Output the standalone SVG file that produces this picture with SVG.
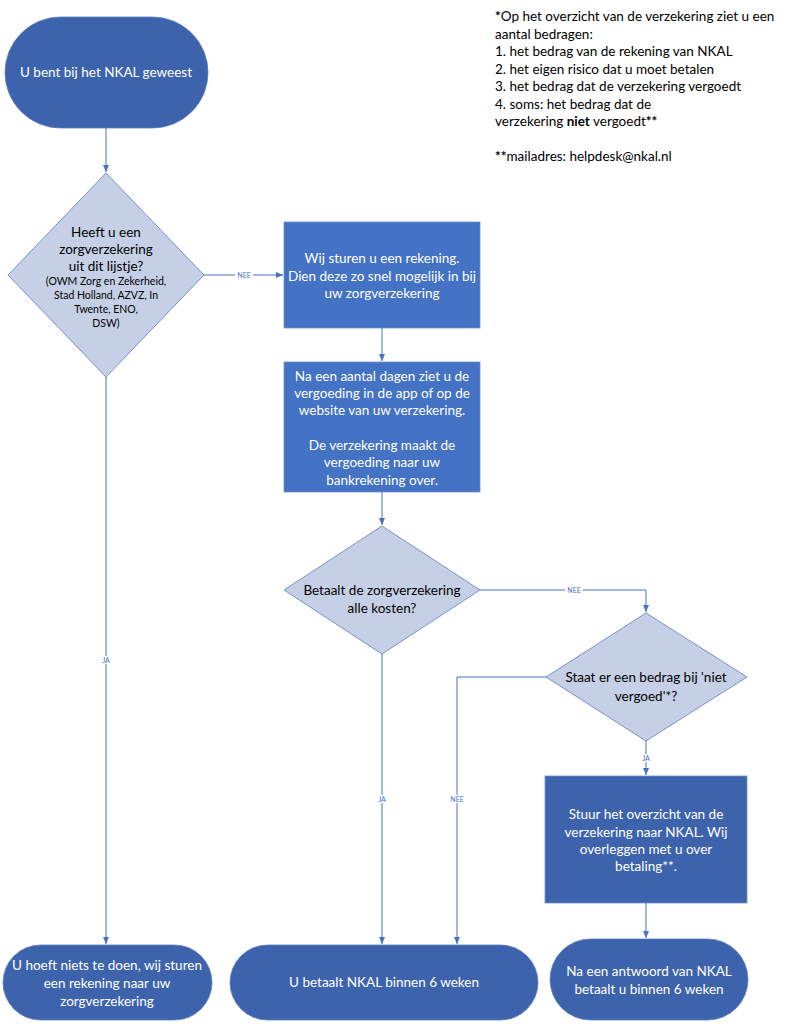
<svg xmlns="http://www.w3.org/2000/svg" width="790" height="1024" viewBox="0 0 790 1024">
<style>
text{font-family:Lato,"Open Sans","Liberation Sans",sans-serif;font-size:13.5px}
.term{fill:#3e63ad;stroke:#5a7dc0;stroke-width:0.8}
.proc{fill:#4472c4;stroke:#6f8fcf;stroke-width:0.8}
.proc2{fill:#3e63ad;stroke:#6f8fcf;stroke-width:0.8}
.dec{fill:#c5d0e6;stroke:#7b92c6;stroke-width:1}
.wt{fill:#ffffff;text-anchor:middle}
.bt{fill:#000000;text-anchor:middle}
.sm{font-size:10.5px}
.note{fill:#000000}
.edge{fill:none;stroke:#4472c4;stroke-width:1}
.lbl{font-size:7px;fill:#4472c4;text-anchor:middle}
.lblbg{fill:#ffffff}
</style>
<defs>
<marker id="arr" markerWidth="8" markerHeight="8" refX="7" refY="4" orient="auto" markerUnits="userSpaceOnUse">
<path d="M0,1 L7,4 L0,7 Z" fill="#4472c4"/>
</marker>
</defs>
<rect width="790" height="1024" fill="#ffffff"/>

<g id="connectors">
<path class="edge" d="M106,128 L106,172" marker-end="url(#arr)"/>
<path class="edge" d="M204,275 L283,275" marker-end="url(#arr)"/>
<path class="edge" d="M382,328 L382,361" marker-end="url(#arr)"/>
<path class="edge" d="M382,492 L382,525" marker-end="url(#arr)"/>
<path class="edge" d="M480,590 L646,590 L646,612" marker-end="url(#arr)"/>
<path class="edge" d="M646,740 L646,775" marker-end="url(#arr)"/>
<path class="edge" d="M646,903 L646,938" marker-end="url(#arr)"/>
<path class="edge" d="M546,677 L457,677 L457,944" marker-end="url(#arr)"/>
<path class="edge" d="M382,653 L382,944" marker-end="url(#arr)"/>
<path class="edge" d="M106,376 L106,944" marker-end="url(#arr)"/>
<rect class="lblbg" x="235" y="271" width="18" height="8"/>
<text class="lbl" x="244" y="277.5">NEE</text>
<rect class="lblbg" x="565" y="586" width="18" height="8"/>
<text class="lbl" x="574" y="592.5">NEE</text>
<rect class="lblbg" x="640" y="754" width="12" height="8"/>
<text class="lbl" x="646" y="760.5">JA</text>
<rect class="lblbg" x="448" y="795" width="18" height="8"/>
<text class="lbl" x="457" y="801.5">NEE</text>
<rect class="lblbg" x="376" y="795" width="12" height="8"/>
<text class="lbl" x="382" y="801.5">JA</text>
<rect class="lblbg" x="100" y="656" width="12" height="8"/>
<text class="lbl" x="106" y="662.5">JA</text>
</g>

<g id="start">
<rect class="term" x="5" y="17" width="203" height="111" rx="55.5" ry="55.5"/>
<text class="wt" x="106" y="77">U bent bij het NKAL geweest</text>
</g>

<g id="decision1">
<polygon class="dec" points="106,173 204,275 106,377 8,275"/>
<text class="bt" x="106" y="237">Heeft u een</text>
<text class="bt" x="106" y="254">zorgverzekering</text>
<text class="bt" x="106" y="271">uit dit lijstje?</text>
<text class="bt sm" x="106" y="285">(OWM Zorg en Zekerheid,</text>
<text class="bt sm" x="106" y="299">Stad Holland, AZVZ, In</text>
<text class="bt sm" x="106" y="313">Twente, ENO,</text>
<text class="bt sm" x="106" y="327">DSW)</text>
</g>

<g id="send-bill">
<rect class="proc" x="284" y="222" width="196" height="106"/>
<text class="wt" x="382" y="263">Wij sturen u een rekening.</text>
<text class="wt" x="382" y="281">Dien deze zo snel mogelijk in bij</text>
<text class="wt" x="382" y="298">uw zorgverzekering</text>
</g>

<g id="reimbursement">
<rect class="proc" x="284" y="362" width="196" height="130"/>
<text class="wt" x="382" y="381">Na een aantal dagen ziet u de</text>
<text class="wt" x="382" y="398">vergoeding in de app of op de</text>
<text class="wt" x="382" y="415">website van uw verzekering.</text>
<text class="wt" x="382" y="450">De verzekering maakt de</text>
<text class="wt" x="382" y="467">vergoeding naar uw</text>
<text class="wt" x="382" y="485">bankrekening over.</text>
</g>

<g id="decision2">
<polygon class="dec" points="382,526 480,590 382,654 284,590"/>
<text class="bt" x="382" y="595">Betaalt de zorgverzekering</text>
<text class="bt" x="382" y="613">alle kosten?</text>
</g>

<g id="decision3">
<polygon class="dec" points="646,613 747,677 646,741 546,677"/>
<text class="bt" x="646" y="682">Staat er een bedrag bij 'niet</text>
<text class="bt" x="646" y="701">vergoed'*?</text>
</g>

<g id="send-overview">
<rect class="proc2" x="545" y="776" width="202" height="127"/>
<text class="wt" x="646" y="819">Stuur het overzicht van de</text>
<text class="wt" x="646" y="837">verzekering naar NKAL. Wij</text>
<text class="wt" x="646" y="854">overleggen met u over</text>
<text class="wt" x="646" y="871">betaling**.</text>
</g>

<g id="end1">
<rect class="term" x="3" y="945" width="209" height="75" rx="37.5" ry="37.5"/>
<text class="wt" x="107" y="970">U hoeft niets te doen, wij sturen</text>
<text class="wt" x="107" y="988">een rekening naar uw</text>
<text class="wt" x="107" y="1006">zorgverzekering</text>
</g>

<g id="end2">
<rect class="term" x="230" y="945" width="308" height="75" rx="37.5" ry="37.5"/>
<text class="wt" x="384" y="987">U betaalt NKAL binnen 6 weken</text>
</g>

<g id="end3">
<rect class="term" x="550" y="939" width="198" height="81" rx="40.5" ry="40.5"/>
<text class="wt" x="649" y="976">Na een antwoord van NKAL</text>
<text class="wt" x="649" y="994">betaalt u binnen 6 weken</text>
</g>

<g id="note">
<text class="note" x="495" y="21"><tspan font-weight="bold">*</tspan>Op het overzicht van de verzekering ziet u een</text>
<text class="note" x="495" y="38.5">aantal bedragen:</text>
<text class="note" x="495" y="56">1. het bedrag van de rekening van NKAL</text>
<text class="note" x="495" y="73.5">2. het eigen risico dat u moet betalen</text>
<text class="note" x="495" y="91">3. het bedrag dat de verzekering vergoedt</text>
<text class="note" x="495" y="108.5">4. soms: het bedrag dat de</text>
<text class="note" x="495" y="126">verzekering <tspan font-weight="bold">niet</tspan> vergoedt<tspan font-weight="bold">**</tspan></text>
<text class="note" x="495" y="161"><tspan font-weight="bold">**</tspan>mailadres: helpdesk@nkal.nl</text>
</g>
</svg>
